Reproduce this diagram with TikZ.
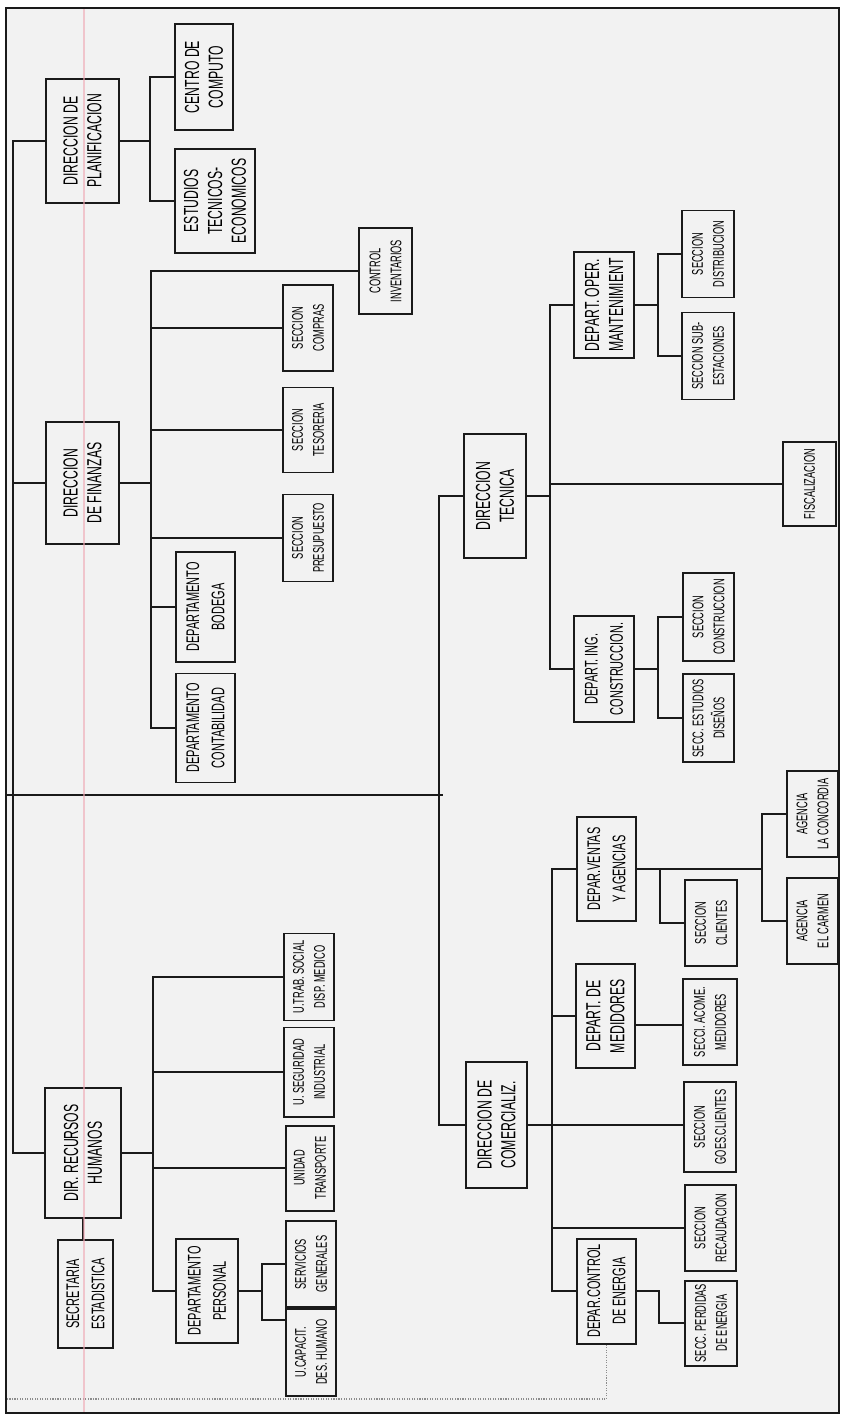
\documentclass[tikz,border=0pt]{standalone}
\usepackage{fontspec}
\newfontfamily\chartfont[FakeStretch=0.6]{Liberation Sans}
\usetikzlibrary{calc}
\usepackage{xcolor}
\definecolor{ChartInk}{HTML}{1A1A1A}
\definecolor{ChartPaper}{HTML}{F2F2F2}
\definecolor{ChartMargin}{HTML}{F0A8B4}
\definecolor{ChartDots}{HTML}{8C8C8C}
\tikzset{
    % Box styles - rotated, text reads upwards
    unitbox/.style={
        rectangle,
        draw=ChartInk,
        line width=1.4pt,
        rotate=90,
        inner sep=1pt,
        align=center
    },
    bigbox/.style={unitbox, font=\chartfont\fontsize{14.5}{17}\selectfont},
    midbox/.style={unitbox, font=\chartfont\fontsize{13}{18}\selectfont},
    smallbox/.style={unitbox, font=\chartfont\fontsize{11}{15}\selectfont},
    % size in reference pixels: along the text, across the text
    dims/.style 2 args={minimum width=#1*0.025cm, minimum height=#2*0.025cm},
    % Line styles - straight lines only
    link/.style={line width=1.4pt, draw=ChartInk},
    dotline/.style={line width=0.8pt, draw=ChartDots, densely dotted}
}

\begin{document}
\begin{tikzpicture}[x=0.025cm, y=-0.025cm]
    \useasboundingbox (0,0) rectangle (842,1416);
    \fill[white] (0,0) rectangle (842,1416);
    \fill[ChartPaper] (6,8) rectangle (839,1413);

    % Bus positions
    \coordinate (sp1) at (13,0);
    \coordinate (sp2) at (439,0);
    \coordinate (pbus) at (150,0);
    \coordinate (fbus) at (151,0);
    \coordinate (hbus) at (153,0);
    \coordinate (dbus) at (262,0);
    \coordinate (tbus) at (550,0);
    \coordinate (obus) at (658,0);
    \coordinate (cbus) at (552,0);
    \coordinate (vbus) at (660,0);
    \coordinate (abus) at (762,0);
    \coordinate (ebus) at (659,0);

    % Direccion de Planificacion
    \node[bigbox, dims={124}{73}] (plan) at (82.5,141) {DIRECCION DE\\PLANIFICACION};
    \node[bigbox, dims={106}{58}] (comp) at (204,77) {CENTRO DE\\COMPUTO};
    \node[bigbox, dims={104}{80}] (estu) at (215,201) {ESTUDIOS\\TECNICOS-\\ECONOMICOS};

    % Direccion de Finanzas
    \node[bigbox, dims={122}{73}] (fin) at (82.5,483) {DIRECCION\\DE FINANZAS};
    \node[smallbox, dims={86}{53}] (ctrl) at (385.5,271) {CONTROL\\INVENTARIOS};
    \node[smallbox, dims={86}{50}] (compras) at (308,328) {SECCION\\COMPRAS};
    \node[smallbox, dims={85}{50}] (teso) at (308,430) {SECCION\\TESORERIA};
    \node[smallbox, dims={87}{50}] (presu) at (308,538) {SECCION\\PRESUPUESTO};
    \node[midbox, dims={110}{59}] (bod) at (205.5,607) {DEPARTAMENTO\\BODEGA};
    \node[midbox, dims={109}{59}] (cont) at (205.5,728) {DEPARTAMENTO\\CONTABILIDAD};

    % Direccion de Recursos Humanos
    \node[bigbox, dims={130}{76}] (rrhh) at (83,1153) {DIR. RECURSOS\\HUMANOS};
    \node[midbox, dims={108}{55}] (secre) at (85.5,1294) {SECRETARIA\\ESTADISTICA};
    \node[smallbox, dims={87}{50}] (trab) at (309,977) {U.TRAB. SOCIAL\\DISP. MEDICO};
    \node[smallbox, dims={89}{50}] (seg) at (309,1072) {U. SEGURIDAD\\INDUSTRIAL};
    \node[smallbox, dims={85}{48}] (trans) at (310,1168) {UNIDAD\\TRANSPORTE};
    \node[midbox, dims={104}{62}] (pers) at (207,1291) {DEPARTAMENTO\\PERSONAL};
    \node[smallbox, dims={86}{50}] (serv) at (311,1264) {SERVICIOS\\GENERALES};
    \node[smallbox, dims={87}{50}] (capa) at (311,1352) {U.CAPACIT.\\DES. HUMANO};

    % Direccion Tecnica
    \node[bigbox, dims={124}{62}] (tec) at (495,496) {DIRECCION\\TECNICA};
    \node[bigbox, dims={106}{60}] (oper) at (604,305) {DEPART. OPER.\\MANTENIMIENT};
    \node[smallbox, dims={87}{52}] (dist) at (708,254) {SECCION\\DISTRIBUCION};
    \node[smallbox, dims={87}{52}] (subest) at (708,356) {SECCION SUB-\\ESTACIONES};
    \node[smallbox, dims={84}{53}] (fisc) at (809.5,484) {FISCALIZACION};
    \node[midbox, dims={106}{60}] (ing) at (604,669) {DEPART. ING.\\CONSTRUCCION.};
    \node[smallbox, dims={88}{51}] (constr) at (708.5,617) {SECCION\\CONSTRUCCION};
    \node[smallbox, dims={88}{51}] (disen) at (708.5,718) {SECC. ESTUDIOS\\DISEÑOS};

    % Direccion de Comercializacion
    \node[bigbox, dims={126}{61}] (com) at (496.5,1125) {DIRECCION DE\\COMERCIALIZ.};
    \node[midbox, dims={104}{59}] (ventas) at (606.5,869) {DEPAR.VENTAS\\Y AGENCIAS};
    \node[smallbox, dims={86}{52}] (cli) at (711,923) {SECCION\\CLIENTES};
    \node[smallbox, dims={86}{51}] (conc) at (812.5,814) {AGENCIA\\LA CONCORDIA};
    \node[smallbox, dims={86}{51}] (carm) at (812.5,921) {AGENCIA\\EL CARMEN};
    \node[bigbox, dims={104}{59}] (med) at (605.5,1016) {DEPART. DE\\MEDIDORES};
    \node[smallbox, dims={86}{54}] (acome) at (710,1022) {SECCI. ACOME.\\MEDIDORES};
    \node[smallbox, dims={90}{52}] (goes) at (710,1127) {SECCION\\GOES.CLIENTES};
    \node[smallbox, dims={86}{51}] (recau) at (710.5,1228) {SECCION\\RECAUDACION};
    \node[midbox, dims={105}{59}] (ctrlen) at (606.5,1291) {DEPAR.CONTROL\\DE ENERGIA};
    \node[smallbox, dims={85}{52}] (perd) at (711,1323) {SECC. PERDIDAS\\DE ENERGIA};

    % Main lines
    \coordinate (root) at (6,795);
    \coordinate (rootend) at (443,795);
    \draw[link] (root) -- (rootend);
    \draw[link] (plan) -- (plan -| sp1) -- (rrhh -| sp1) -- (rrhh);
    \draw[link] (fin) -- (fin -| sp1);
    \draw[link] (tec) -- (tec -| sp2) -- (com -| sp2) -- (com);

    % Planificacion links
    \draw[link] (plan) -- (plan -| pbus);
    \draw[link] (comp) -- (comp -| pbus) -- (estu -| pbus) -- (estu);

    % Finanzas links
    \draw[link] (fin) -- (fin -| fbus);
    \draw[link] (ctrl) -- (ctrl -| fbus) -- (cont -| fbus) -- (cont);
    \draw[link] (compras -| fbus) -- (compras);
    \draw[link] (teso -| fbus) -- (teso);
    \draw[link] (presu -| fbus) -- (presu);
    \draw[link] (bod -| fbus) -- (bod);

    % Recursos Humanos links
    \draw[link] (rrhh.west) -- (rrhh.west |- secre.east);
    \draw[link] (rrhh) -- (rrhh -| hbus);
    \draw[link] (trab) -- (trab -| hbus) -- (pers -| hbus) -- (pers);
    \draw[link] (seg -| hbus) -- (seg);
    \draw[link] (trans -| hbus) -- (trans);
    \coordinate (capain) at (262,1320);
    \draw[link] (pers) -- (pers -| dbus);
    \draw[link] (serv) -- (serv -| dbus) -- (capain) -- (capain -| capa.north);

    % Tecnica links
    \draw[link] (tec) -- (tec -| tbus);
    \draw[link] (oper) -- (oper -| tbus) -- (ing -| tbus) -- (ing);
    \draw[link] (fisc -| tbus) -- (fisc);
    \draw[link] (oper) -- (oper -| obus);
    \draw[link] (dist) -- (dist -| obus) -- (subest -| obus) -- (subest);
    \draw[link] (ing) -- (ing -| obus);
    \draw[link] (constr) -- (constr -| obus) -- (disen -| obus) -- (disen);

    % Comercializacion links
    \draw[link] (com) -- (com -| goes.north);
    \draw[link] (ventas) -- (ventas -| cbus) -- (ctrlen -| cbus) -- (ctrlen);
    \draw[link] (med -| cbus) -- (med);
    \draw[link] (recau -| cbus) -- (recau);
    \draw[link] (ventas) -- (ventas -| abus);
    \draw[link] (conc) -- (conc -| abus) -- (carm -| abus) -- (carm);
    \draw[link] (ventas -| vbus) -- (cli -| vbus) -- (cli);
    \coordinate (medout) at (635,1025);
    \draw[link] (medout) -- (medout -| acome.north);
    \draw[link] (ctrlen) -- (ctrlen -| ebus) -- (perd -| ebus) -- (perd);

    % Dotted return line
    \coordinate (dotend) at (6,1399);
    \draw[dotline] (ctrlen.west) -- (ctrlen.west |- dotend) -- (dotend);

    % Margin line and frame
    \draw[ChartMargin, line width=1.4pt, opacity=0.6] (84,8) -- (84,1413);
    \draw[ChartInk, line width=1.5pt] (6,8) rectangle (839,1413);
\end{tikzpicture}
\end{document}
